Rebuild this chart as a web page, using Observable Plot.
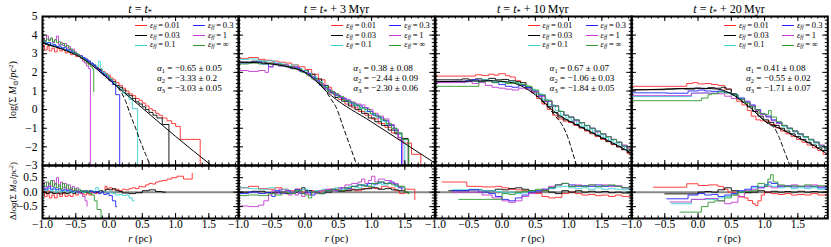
<!DOCTYPE html>
<html><head><meta charset="utf-8">
<script src="https://cdn.jsdelivr.net/npm/d3@7"></script>
<script src="https://cdn.jsdelivr.net/npm/@observablehq/plot@0.6"></script>
<style>
body{margin:0;background:#fff;}
#chart{position:relative;width:831px;height:247px;overflow:hidden;font-family:"Liberation Serif","DejaVu Serif",serif;color:#000;}
.abs{position:absolute;white-space:nowrap;line-height:1;}
.abs sub{font-size:70%;vertical-align:-0.25em;line-height:0;}
.abs sup{font-size:70%;vertical-align:0.45em;line-height:0;}
.plot{position:absolute;}
</style></head><body><div id="chart"></div><script>
// ---------------- categories / labels ----------------
const titles = ["", " + 3\u2009Myr", " + 10\u2009Myr", " + 20\u2009Myr"];
const epsLabels = ["0.01", "0.03", "0.1", "0.3", "1", "\u221e"];
const seriesKeys = ["red", "black", "cyan", "blue", "magenta", "green"];
const seriesColors = ["#ff2a2a", "#000000", "#38d4d4", "#2323ff", "#c23ad0", "#2e9a2e"];
const alphaText = [
  ["\u22120.65 \u00b1 0.05", "\u22123.33 \u00b1 0.2", "\u22123.03 \u00b1 0.05"],
  ["0.38 \u00b1 0.08", "\u22122.44 \u00b1 0.09", "\u22122.30 \u00b1 0.06"],
  ["0.67 \u00b1 0.07", "\u22121.06 \u00b1 0.03", "\u22121.84 \u00b1 0.05"],
  ["0.41 \u00b1 0.08", "\u22120.55 \u00b1 0.02", "\u22121.71 \u00b1 0.07"]
];
const xTickLabels = [-1, -0.5, 0, 0.5, 1, 1.5];
const mainYTickLabels = [-3, -2, -1, 0, 1, 2, 3, 4, 5];
const resYTickLabels = [-0.5, 0, 0.5];

// ---------------- panel 1: t = t* ----------------
const p1_fit = [[-1,3.6],[-0.8,3.37],[-0.6,3.1],[-0.45,2.85],[-0.3,2.5],[-0.1,1.92],[0.2,1.0],[0.6,-0.22],[1.0,-1.44],[1.54,-3.0]];
const p1_dash = [[-0.1,1.92],[0.05,1.46],[0.15,1.1],[0.25,0.45],[0.32,-0.27],[0.4,-1.0],[0.47,-1.7],[0.55,-2.4],[0.62,-3.0]];
const p1_red = [[-1,3.45],[-0.97,3.2],[-0.93,3.4],[-0.9,3.15],[-0.86,3.3],[-0.82,3.1],[-0.78,3.3],[-0.74,3.15],[-0.7,3.25],[-0.66,3.05],[-0.62,3.1],[-0.58,2.95],[-0.54,3.0],[-0.5,2.85],[-0.46,2.9],[-0.42,2.75],[-0.38,2.7],[-0.34,2.6],[-0.3,2.45],[-0.26,2.4],[-0.22,2.3],[-0.18,2.2],[-0.14,2.15],[-0.1,2.05],[-0.06,1.95],[-0.02,1.85],[0.02,1.7],[0.06,1.6],[0.1,1.45],[0.15,1.3],[0.2,1.15],[0.25,1.0],[0.3,0.85],[0.35,0.75],[0.4,0.6],[0.45,0.5],[0.5,0.35],[0.55,0.2],[0.6,0.05],[0.65,-0.05],[0.7,-0.2],[0.75,-0.3],[0.8,-0.45],[0.87,-0.6],[0.94,-0.75],[1.0,-0.9],[1.07,-1.6],[1.37,-3.0]];
const p1_black = [[-1,3.55],[-0.96,3.5],[-0.92,3.45],[-0.88,3.42],[-0.84,3.38],[-0.8,3.35],[-0.76,3.3],[-0.72,3.27],[-0.68,3.2],[-0.64,3.18],[-0.6,3.1],[-0.56,3.05],[-0.52,2.98],[-0.48,2.92],[-0.44,2.85],[-0.4,2.78],[-0.36,2.68],[-0.32,2.6],[-0.28,2.48],[-0.24,2.4],[-0.2,2.25],[-0.16,2.15],[-0.12,2.0],[-0.08,1.9],[-0.04,1.8],[0,1.62],[0.05,1.5],[0.1,1.3],[0.15,1.2],[0.2,1.05],[0.25,0.85],[0.3,0.75],[0.35,0.6],[0.4,0.42],[0.45,0.3],[0.5,0.15],[0.55,0.0],[0.6,-0.15],[0.66,-0.3],[0.72,-0.45],[0.8,-0.8],[0.9,-3.0]];
const p1_cyan = [[-1,3.65],[-0.96,3.6],[-0.92,3.5],[-0.88,3.55],[-0.84,3.45],[-0.8,3.4],[-0.76,3.35],[-0.72,3.32],[-0.68,3.25],[-0.64,3.2],[-0.6,3.15],[-0.56,3.05],[-0.52,3.0],[-0.48,2.9],[-0.44,2.85],[-0.4,2.75],[-0.36,2.65],[-0.32,2.6],[-0.28,2.45],[-0.24,2.4],[-0.2,2.3],[-0.16,2.6],[-0.13,2.2],[-0.1,2.0],[-0.05,1.85],[0,1.65],[0.05,1.45],[0.1,1.25],[0.15,1.1],[0.2,0.9],[0.25,0.75],[0.3,0.55],[0.35,0.05],[0.43,-3.0]];
const p1_blue = [[-1,3.7],[-0.96,3.55],[-0.92,3.6],[-0.88,3.45],[-0.84,3.5],[-0.8,3.4],[-0.76,3.42],[-0.72,3.3],[-0.68,3.35],[-0.64,3.2],[-0.6,3.22],[-0.56,3.1],[-0.52,3.05],[-0.48,2.95],[-0.44,2.9],[-0.4,2.8],[-0.36,2.72],[-0.32,2.6],[-0.28,2.5],[-0.24,2.38],[-0.2,2.2],[-0.16,2.1],[-0.12,1.95],[-0.08,1.85],[-0.04,1.7],[0,1.55],[0.05,1.35],[0.1,0.8],[0.16,-3.0]];
const p1_magenta = [[-1,3.85],[-0.97,3.7],[-0.94,3.95],[-0.91,3.75],[-0.88,3.8],[-0.85,3.6],[-0.82,3.75],[-0.79,3.95],[-0.76,3.5],[-0.73,3.6],[-0.7,3.45],[-0.67,3.55],[-0.64,3.3],[-0.61,3.4],[-0.58,3.2],[-0.55,3.25],[-0.52,3.1],[-0.49,2.95],[-0.46,2.9],[-0.43,2.75],[-0.4,2.6],[-0.37,2.5],[-0.34,2.35],[-0.31,2.2],[-0.28,-3.0]];
const p1_green = [[-1,3.75],[-0.97,3.65],[-0.94,3.8],[-0.91,3.7],[-0.88,3.85],[-0.85,3.65],[-0.82,3.75],[-0.79,3.6],[-0.76,3.65],[-0.73,3.5],[-0.7,3.55],[-0.67,3.4],[-0.64,3.45],[-0.61,3.3],[-0.58,3.25],[-0.55,3.15],[-0.52,3.05],[-0.49,3.0],[-0.46,2.9],[-0.43,2.8],[-0.4,2.72],[-0.37,2.62],[-0.34,2.5],[-0.31,2.4],[-0.28,2.3],[-0.25,2.2],[-0.23,0.97]];
const p1r_red = [[-1,0.1],[-0.97,-0.15],[-0.93,0.05],[-0.9,-0.2],[-0.86,-0.1],[-0.82,-0.2],[-0.78,-0.05],[-0.74,-0.15],[-0.7,-0.05],[-0.66,-0.15],[-0.62,-0.1],[-0.58,-0.15],[-0.54,-0.05],[-0.5,-0.1],[-0.46,0.0],[-0.42,-0.05],[-0.38,-0.1],[-0.34,-0.05],[-0.3,-0.1],[-0.26,0.0],[-0.22,-0.05],[-0.18,0.0],[-0.14,0.05],[-0.1,0.0],[-0.06,0.2],[-0.03,0.1],[0.0,0.15],[0.05,0.08],[0.1,0.1],[0.15,0.05],[0.2,0.1],[0.25,0.08],[0.3,0.12],[0.35,0.15],[0.4,0.12],[0.45,0.2],[0.5,0.18],[0.55,0.25],[0.6,0.3],[0.65,0.28],[0.7,0.35],[0.75,0.38],[0.8,0.4],[0.87,0.45],[0.94,0.5],[1.02,0.55],[1.12,0.45],[1.25,0.65]];
const p1r_black = [[-1,0.0],[-0.95,-0.05],[-0.9,0.0],[-0.85,-0.05],[-0.8,-0.03],[-0.75,-0.06],[-0.7,-0.02],[-0.65,-0.05],[-0.6,0.0],[-0.55,-0.04],[-0.5,0.02],[-0.45,-0.02],[-0.4,0.03],[-0.35,0.0],[-0.3,0.05],[-0.25,0.02],[-0.2,0.0],[-0.15,0.05],[-0.1,0.03],[-0.05,0.1],[0.0,0.08],[0.05,0.12],[0.1,0.05],[0.15,0.02],[0.2,-0.03],[0.3,-0.05],[0.4,-0.02],[0.5,0.05],[0.6,0.08],[0.7,0.02],[0.8,0.0],[0.85,0.0]];
const p1r_cyan = [[-1,0.1],[-0.96,0.05],[-0.92,0.12],[-0.88,0.05],[-0.84,0.1],[-0.8,0.0],[-0.76,0.08],[-0.72,0.02],[-0.68,0.06],[-0.64,0.0],[-0.6,0.05],[-0.56,-0.02],[-0.52,0.03],[-0.48,-0.03],[-0.44,0.02],[-0.4,-0.02],[-0.36,0.03],[-0.32,0.0],[-0.28,0.05],[-0.24,0.0],[-0.2,0.15],[-0.16,0.05],[-0.12,-0.02],[-0.08,0.02],[-0.04,-0.05],[0,0.0],[0.05,-0.05],[0.1,-0.1],[0.15,-0.08],[0.2,-0.12],[0.25,-0.1],[0.3,-0.2],[0.35,-0.3],[0.38,-0.3]];
const p1r_blue = [[-1,0.15],[-0.96,0.1],[-0.92,0.2],[-0.88,0.1],[-0.84,0.15],[-0.8,0.08],[-0.76,0.12],[-0.72,0.05],[-0.68,0.1],[-0.64,0.05],[-0.6,0.08],[-0.56,0.03],[-0.52,0.06],[-0.48,0.0],[-0.44,0.05],[-0.4,0.02],[-0.36,0.05],[-0.32,0.0],[-0.28,0.03],[-0.24,-0.02],[-0.2,0.02],[-0.16,-0.05],[-0.12,0.0],[-0.08,-0.08],[-0.04,-0.05],[0.0,-0.12],[0.05,-0.3],[0.1,-0.5],[0.12,-0.5]];
const p1r_magenta = [[-1,0.25],[-0.97,0.35],[-0.94,0.15],[-0.91,0.3],[-0.88,0.2],[-0.85,0.4],[-0.82,0.25],[-0.79,0.5],[-0.76,0.2],[-0.73,0.35],[-0.7,0.15],[-0.67,0.3],[-0.64,0.1],[-0.61,0.25],[-0.58,0.1],[-0.55,0.2],[-0.52,0.05],[-0.49,0.15],[-0.46,0.0],[-0.43,-0.05],[-0.4,-0.15],[-0.36,-0.3],[-0.33,-0.48]];
const p1r_green = [[-1,0.3],[-0.97,0.2],[-0.94,0.35],[-0.91,0.25],[-0.88,0.4],[-0.85,0.2],[-0.82,0.3],[-0.79,0.15],[-0.76,0.25],[-0.73,0.1],[-0.7,0.3],[-0.67,0.15],[-0.64,0.25],[-0.61,0.1],[-0.58,0.15],[-0.55,0.05],[-0.52,0.12],[-0.49,0.05],[-0.46,0.1],[-0.43,0.02],[-0.4,0.05],[-0.37,0.0],[-0.34,0.03],[-0.3,-0.05],[-0.26,-0.1],[-0.22,-0.3],[-0.18,-0.6],[-0.12,-0.95]];

// ---------------- panel 2: t = t* + 3 Myr ----------------
const p2_fit = [[-1,2.55],[-0.7,2.52],[-0.4,2.4],[-0.2,2.25],[0,2.0],[0.15,1.6],[0.3,1.05],[0.4,0.74],[1.0,-0.66],[1.5,-1.82],[1.95,-2.87]];
const p2_dash = [[0.2,1.45],[0.3,1.05],[0.38,0.62],[0.47,0.1],[0.58,-1.0],[0.68,-2.0],[0.78,-3.0]];
const p2_red = [[-1,2.75],[-0.85,2.8],[-0.7,2.7],[-0.6,2.65],[-0.5,2.6],[-0.4,2.55],[-0.3,2.5],[-0.2,2.4],[-0.1,2.3],[0,2.15],[0.1,1.9],[0.2,1.6],[0.3,1.2],[0.4,0.85],[0.5,0.55],[0.6,0.3],[0.7,0.1],[0.8,-0.1],[0.9,-0.3],[1.0,-0.5],[1.1,-0.75],[1.2,-0.95],[1.3,-1.25],[1.4,-1.6],[1.47,-1.8],[1.6,-2.4],[1.74,-3.0]];
const p2_black = [[-1,2.55],[-0.8,2.6],[-0.6,2.5],[-0.45,2.45],[-0.35,2.4],[-0.25,2.3],[-0.15,2.2],[-0.05,2.1],[0.05,1.9],[0.15,1.65],[0.25,1.3],[0.35,0.95],[0.45,0.65],[0.55,0.45],[0.65,0.2],[0.75,0.0],[0.85,-0.2],[0.95,-0.45],[1.05,-0.65],[1.15,-0.85],[1.25,-1.1],[1.35,-1.3],[1.45,-1.55],[1.55,-3.0]];
const p2_cyan = [[-1,2.7],[-0.85,2.72],[-0.7,2.6],[-0.55,2.62],[-0.45,2.5],[-0.35,2.45],[-0.27,2.35],[-0.2,2.4],[-0.12,2.2],[-0.05,2.1],[0.03,1.95],[0.1,1.75],[0.18,1.5],[0.26,1.25],[0.34,1.0],[0.42,0.85],[0.5,0.65],[0.58,0.5],[0.66,0.35],[0.74,0.2],[0.82,0.05],[0.9,-0.1],[0.98,-0.25],[1.06,-0.4],[1.14,-0.6],[1.22,-0.8],[1.3,-1.0],[1.38,-1.25],[1.45,-1.6],[1.5,-3.0]];
const p2_blue = [[-1,2.5],[-0.8,2.55],[-0.65,2.45],[-0.55,2.3],[-0.48,2.45],[-0.4,2.35],[-0.3,2.3],[-0.22,2.2],[-0.15,2.25],[-0.08,2.05],[0,1.95],[0.08,1.75],[0.15,1.55],[0.22,1.3],[0.3,1.1],[0.38,0.9],[0.46,0.75],[0.54,0.6],[0.62,0.45],[0.7,0.3],[0.78,0.2],[0.86,0.1],[0.94,-0.1],[1.02,-0.3],[1.1,-0.45],[1.18,-0.6],[1.26,-0.85],[1.34,-1.1],[1.4,-1.5],[1.45,-3.0]];
const p2_magenta = [[-1,2.1],[-0.85,2.05],[-0.7,2.1],[-0.6,2.0],[-0.55,2.3],[-0.48,2.45],[-0.4,2.35],[-0.32,2.4],[-0.25,2.25],[-0.18,2.3],[-0.1,2.1],[-0.03,2.0],[0.05,1.8],[0.12,1.6],[0.2,1.4],[0.28,1.15],[0.36,0.95],[0.44,0.8],[0.52,0.65],[0.6,0.55],[0.68,0.4],[0.76,0.3],[0.84,0.25],[0.9,0.1],[0.96,0.0],[1.02,-0.2],[1.1,-0.35],[1.18,-0.5],[1.26,-0.8],[1.34,-1.05],[1.4,-1.5],[1.47,-3.0]];
const p2_green = [[-1,2.45],[-0.85,2.5],[-0.7,2.45],[-0.55,2.45],[-0.45,2.4],[-0.35,2.35],[-0.28,2.3],[-0.2,2.2],[-0.12,2.15],[-0.05,2.0],[0.02,1.85],[0.1,1.65],[0.18,1.45],[0.26,1.2],[0.34,1.0],[0.42,0.85],[0.5,0.7],[0.58,0.5],[0.66,0.4],[0.74,0.25],[0.82,0.1],[0.9,0.0],[0.98,-0.2],[1.06,-0.35],[1.14,-0.55],[1.22,-0.75],[1.3,-1.0],[1.38,-1.25],[1.46,-1.6],[1.56,-3.0]];
const p2r_red = [[-1,0.15],[-0.85,0.2],[-0.7,0.12],[-0.55,0.1],[-0.45,0.15],[-0.35,0.1],[-0.25,0.05],[-0.15,0.1],[-0.05,0.0],[0.05,0.05],[0.15,0.0],[0.25,0.05],[0.35,0.1],[0.45,0.08],[0.55,0.05],[0.65,0.1],[0.75,0.05],[0.85,0.12],[0.95,0.15],[1.05,0.12],[1.15,0.2],[1.25,0.15],[1.35,0.05],[1.42,-0.05],[1.5,0.1],[1.65,-0.26]];
const p2r_black = [[-1,0.0],[-0.8,0.03],[-0.6,-0.02],[-0.45,0.0],[-0.3,-0.05],[-0.2,0.0],[-0.1,0.05],[-0.05,0.15],[0.0,0.05],[0.1,0.0],[0.2,-0.05],[0.3,0.0],[0.4,0.05],[0.5,0.03],[0.6,0.05],[0.7,0.08],[0.8,0.1],[0.9,0.12],[1.0,0.15],[1.1,0.1],[1.2,0.12],[1.3,0.08],[1.4,0.05],[1.5,0.0],[1.55,-0.05]];
const p2r_cyan = [[-1,0.15],[-0.85,0.12],[-0.7,0.1],[-0.55,0.15],[-0.45,0.05],[-0.35,0.1],[-0.25,0.0],[-0.15,0.05],[-0.05,0.1],[0.05,0.0],[0.15,0.05],[0.25,0.1],[0.35,0.05],[0.45,0.15],[0.55,0.1],[0.65,0.2],[0.75,0.15],[0.85,0.25],[0.95,0.2],[1.05,0.3],[1.15,0.25],[1.25,0.3],[1.35,0.2],[1.45,0.15],[1.5,0.1]];
const p2r_blue = [[-1,-0.05],[-0.85,0.0],[-0.7,-0.05],[-0.6,-0.02],[-0.5,-0.15],[-0.45,0.05],[-0.38,-0.05],[-0.3,0.05],[-0.22,-0.05],[-0.15,0.1],[-0.08,-0.05],[0,0.0],[0.08,-0.1],[0.15,0.0],[0.22,-0.05],[0.3,0.05],[0.38,0.1],[0.46,0.05],[0.54,0.15],[0.62,0.12],[0.7,0.2],[0.78,0.25],[0.86,0.22],[0.94,0.3],[1.02,0.28],[1.1,0.35],[1.18,0.3],[1.26,0.35],[1.34,0.25],[1.4,0.15],[1.45,0.1]];
const p2r_magenta = [[-1,-0.48],[-0.85,-0.5],[-0.7,-0.45],[-0.62,-0.3],[-0.55,-0.1],[-0.5,0.05],[-0.45,-0.05],[-0.4,0.1],[-0.35,-0.05],[-0.3,0.05],[-0.25,-0.1],[-0.2,0.0],[-0.15,-0.1],[-0.1,0.0],[-0.05,-0.15],[0,-0.05],[0.05,-0.1],[0.1,0.0],[0.15,-0.05],[0.2,0.05],[0.3,0.1],[0.4,0.05],[0.5,0.15],[0.6,0.25],[0.7,0.3],[0.8,0.35],[0.85,0.45],[0.9,0.3],[0.95,0.4],[1.0,0.55],[1.05,0.35],[1.1,0.45],[1.2,0.4],[1.3,0.3],[1.4,0.2],[1.47,0.1]];
const p2r_green = [[-1,-0.12],[-0.85,-0.1],[-0.7,-0.12],[-0.55,-0.05],[-0.45,-0.1],[-0.35,0.0],[-0.25,-0.05],[-0.15,0.05],[-0.05,-0.05],[0.0,-0.1],[0.05,-0.2],[0.1,0.0],[0.2,-0.05],[0.3,0.05],[0.4,0.1],[0.5,0.05],[0.6,0.15],[0.7,0.2],[0.8,0.25],[0.9,0.2],[1.0,0.3],[1.1,0.35],[1.2,0.3],[1.3,0.25],[1.4,0.2],[1.5,0.0],[1.56,-0.05]];

// ---------------- panel 3: t = t* + 10 Myr ----------------
const p3_fit = [[-1,1.5],[-0.5,1.53],[-0.2,1.55],[0,1.52],[0.2,1.4],[0.4,1.05],[0.6,0.5],[0.8,-0.15],[1.0,-0.6],[1.25,-1.05],[1.5,-1.5],[1.75,-1.95],[1.95,-2.35]];
const p3_dash = [[0.6,0.45],[0.7,0.1],[0.8,-0.35],[0.9,-0.8],[1.0,-1.6],[1.06,-2.3],[1.12,-3.0]];
const p3_red = [[-1,1.8],[-0.4,1.87],[-0.3,1.83],[-0.2,1.9],[-0.12,1.85],[-0.05,1.93],[0.05,1.82],[0.12,1.75],[0.2,1.55],[0.28,1.35],[0.36,1.15],[0.44,0.9],[0.52,0.6],[0.6,0.3],[0.68,0.0],[0.76,-0.3],[0.84,-0.5],[0.92,-0.62],[1.0,-0.7],[1.08,-0.85],[1.16,-1.0],[1.24,-1.15],[1.32,-1.3],[1.4,-1.45],[1.48,-1.6],[1.56,-1.72],[1.64,-1.88],[1.72,-2.0],[1.8,-2.15],[1.88,-2.35],[1.95,-2.45]];
const p3_black = [[-1,1.6],[-0.6,1.65],[-0.5,1.6],[-0.4,1.65],[-0.3,1.6],[-0.2,1.68],[-0.1,1.6],[0,1.62],[0.1,1.55],[0.2,1.5],[0.28,1.45],[0.36,1.2],[0.44,0.95],[0.52,0.7],[0.6,0.45],[0.68,0.15],[0.76,-0.15],[0.84,-0.4],[0.92,-0.55],[1.0,-0.65],[1.08,-0.8],[1.16,-0.95],[1.24,-1.1],[1.32,-1.25],[1.4,-1.4],[1.48,-1.55],[1.56,-1.7],[1.64,-1.85],[1.72,-2.0],[1.8,-2.15],[1.88,-2.3],[1.95,-2.4]];
const p3_cyan = [[-1,1.48],[-0.5,1.55],[-0.4,1.5],[-0.3,1.6],[-0.2,1.55],[-0.1,1.5],[0,1.45],[0.1,1.5],[0.2,1.4],[0.3,1.3],[0.4,1.1],[0.5,0.85],[0.6,0.55],[0.7,0.25],[0.8,-0.05],[0.88,-0.3],[0.96,-0.45],[1.04,-0.6],[1.12,-0.75],[1.2,-0.9],[1.28,-1.05],[1.36,-1.2],[1.44,-1.35],[1.52,-1.5],[1.6,-1.65],[1.68,-1.8],[1.76,-1.95],[1.84,-2.15],[1.95,-2.35]];
const p3_blue = [[-1,1.5],[-0.55,1.55],[-0.45,1.6],[-0.35,1.5],[-0.25,1.55],[-0.15,1.45],[-0.05,1.35],[0.05,1.25],[0.15,1.2],[0.25,1.3],[0.35,1.2],[0.45,1.0],[0.55,0.75],[0.65,0.45],[0.75,0.2],[0.85,-0.1],[0.93,-0.3],[1.0,-0.4],[1.08,-0.55],[1.16,-0.7],[1.24,-0.85],[1.32,-1.0],[1.4,-1.15],[1.48,-1.3],[1.56,-1.45],[1.64,-1.6],[1.72,-1.75],[1.8,-1.95],[1.88,-2.15],[1.95,-2.3]];
const p3_magenta = [[-1,1.45],[-0.55,1.5],[-0.45,1.4],[-0.35,1.45],[-0.25,1.3],[-0.15,1.2],[-0.05,1.15],[0.05,1.1],[0.15,1.05],[0.25,1.15],[0.35,1.1],[0.45,0.95],[0.55,0.7],[0.65,0.45],[0.75,0.2],[0.85,-0.1],[0.93,-0.3],[1.0,-0.4],[1.08,-0.6],[1.16,-0.7],[1.24,-0.85],[1.32,-1.0],[1.4,-1.2],[1.48,-1.3],[1.56,-1.45],[1.64,-1.6],[1.72,-1.75],[1.8,-1.9],[1.88,-2.1],[1.95,-2.25]];
const p3_green = [[-1,1.25],[-0.35,1.5],[-0.25,1.55],[-0.15,1.45],[-0.05,1.5],[0.05,1.4],[0.15,1.45],[0.25,1.35],[0.35,1.25],[0.45,1.05],[0.55,0.8],[0.65,0.5],[0.75,0.2],[0.85,-0.1],[0.93,-0.3],[1.0,-0.4],[1.08,-0.55],[1.16,-0.7],[1.24,-0.85],[1.32,-1.0],[1.4,-1.15],[1.48,-1.3],[1.56,-1.45],[1.64,-1.6],[1.72,-1.75],[1.8,-1.95],[1.88,-2.15],[1.95,-2.3]];
const p3r_red = [[-0.9,0.35],[-0.53,0.2],[-0.3,0.18],[-0.1,0.2],[0.0,0.15],[0.1,0.1],[0.2,0.08],[0.3,0.05],[0.4,0.0],[0.5,-0.05],[0.6,-0.15],[0.7,-0.2],[0.8,-0.18],[0.9,-0.05],[1.0,0.0],[1.1,-0.05],[1.2,-0.1],[1.3,-0.08],[1.4,-0.12],[1.5,-0.1],[1.6,-0.15],[1.7,-0.1],[1.8,-0.15],[1.95,-0.15]];
const p3r_black = [[-0.8,0.05],[-0.5,0.08],[-0.3,0.05],[-0.1,0.1],[0.0,0.08],[0.1,0.12],[0.2,0.15],[0.3,0.1],[0.4,0.05],[0.5,0.0],[0.6,0.05],[0.7,0.0],[0.8,-0.05],[0.9,0.05],[1.0,0.0],[1.1,0.05],[1.2,0.0],[1.3,0.03],[1.4,0.0],[1.5,0.02],[1.6,-0.02],[1.7,0.0],[1.8,-0.03],[1.95,-0.05]];
const p3r_cyan = [[-0.75,0.08],[-0.5,0.1],[-0.3,0.05],[-0.1,0.02],[0.0,-0.02],[0.1,0.0],[0.2,-0.05],[0.3,0.0],[0.4,0.02],[0.5,0.05],[0.6,0.1],[0.7,0.12],[0.8,0.18],[0.9,0.2],[1.0,0.15],[1.1,0.12],[1.2,0.15],[1.3,0.1],[1.4,0.15],[1.5,0.1],[1.6,0.12],[1.7,0.1],[1.8,0.08],[1.95,0.0]];
const p3r_blue = [[-0.75,0.05],[-0.5,0.08],[-0.35,0.0],[-0.2,-0.05],[-0.1,-0.15],[0.0,-0.25],[0.1,-0.3],[0.2,-0.2],[0.3,-0.1],[0.4,0.0],[0.5,0.05],[0.6,0.1],[0.7,0.15],[0.8,0.25],[0.9,0.3],[1.0,0.25],[1.1,0.2],[1.2,0.22],[1.3,0.2],[1.4,0.25],[1.5,0.2],[1.6,0.22],[1.7,0.2],[1.8,0.15],[1.95,0.05]];
const p3r_magenta = [[-0.75,0.0],[-0.5,0.0],[-0.3,-0.1],[-0.15,-0.2],[0.0,-0.3],[0.1,-0.35],[0.2,-0.3],[0.3,-0.15],[0.4,-0.05],[0.5,0.0],[0.6,0.1],[0.7,0.2],[0.8,0.25],[0.9,0.3],[1.0,0.2],[1.1,0.25],[1.2,0.2],[1.3,0.25],[1.4,0.2],[1.5,0.25],[1.6,0.2],[1.7,0.22],[1.8,0.15],[1.95,0.1]];
const p3r_green = [[-0.65,-0.25],[0.0,-0.05],[0.1,-0.08],[0.2,0.0],[0.3,0.03],[0.4,0.05],[0.5,0.1],[0.6,0.05],[0.7,0.15],[0.8,0.25],[0.9,0.3],[1.0,0.2],[1.1,0.22],[1.2,0.2],[1.3,0.25],[1.4,0.2],[1.5,0.22],[1.6,0.25],[1.7,0.2],[1.8,0.15],[1.95,0.05]];

// ---------------- panel 4: t = t* + 20 Myr ----------------
const p4_fit = [[-1,1.05],[-0.5,1.1],[0,1.15],[0.3,1.1],[0.5,0.85],[0.7,0.35],[0.85,-0.1],[1.0,-0.6],[1.25,-1.05],[1.5,-1.5],[1.75,-1.95],[1.95,-2.4]];
const p4_dash = [[0.85,-0.1],[0.95,-0.45],[1.05,-0.75],[1.15,-1.0],[1.22,-1.5],[1.3,-2.25],[1.38,-3.0]];
const p4_red = [[-1,1.25],[-0.17,1.4],[-0.08,1.45],[0.0,1.38],[0.1,1.4],[0.2,1.35],[0.3,1.3],[0.4,1.1],[0.5,0.8],[0.58,0.45],[0.66,0.25],[0.74,-0.05],[0.8,-0.35],[0.87,-0.55],[0.94,-0.6],[1.0,-0.62],[1.08,-0.8],[1.16,-0.98],[1.24,-1.15],[1.32,-1.3],[1.4,-1.45],[1.48,-1.6],[1.56,-1.75],[1.64,-1.9],[1.72,-2.05],[1.8,-2.2],[1.88,-2.4],[1.95,-2.5]];
const p4_black = [[-1,1.07],[-0.5,1.1],[-0.35,1.12],[-0.2,1.1],[-0.05,1.15],[0.05,1.12],[0.15,1.18],[0.25,1.15],[0.35,1.2],[0.42,1.1],[0.5,0.85],[0.58,0.6],[0.66,0.4],[0.74,0.15],[0.82,-0.1],[0.9,-0.35],[0.98,-0.55],[1.06,-0.7],[1.14,-0.85],[1.22,-1.0],[1.3,-1.15],[1.38,-1.3],[1.46,-1.45],[1.54,-1.6],[1.62,-1.75],[1.7,-1.9],[1.78,-2.05],[1.86,-2.2],[1.95,-2.4]];
const p4_cyan = [[-1,0.7],[-0.1,0.88],[0.3,0.95],[0.4,0.92],[0.5,0.78],[0.6,0.6],[0.7,0.4],[0.78,0.22],[0.86,0.0],[0.94,-0.25],[1.02,-0.4],[1.1,-0.6],[1.18,-0.75],[1.26,-0.9],[1.34,-1.05],[1.42,-1.2],[1.5,-1.35],[1.58,-1.5],[1.66,-1.65],[1.74,-1.8],[1.82,-1.95],[1.9,-2.15],[1.95,-2.25]];
const p4_blue = [[-1,0.9],[-0.47,0.88],[-0.15,1.0],[0.0,1.05],[0.1,1.0],[0.2,0.98],[0.3,1.0],[0.4,0.9],[0.5,0.8],[0.6,0.62],[0.7,0.45],[0.78,0.25],[0.86,0.0],[0.94,-0.25],[1.02,-0.35],[1.1,-0.55],[1.18,-0.7],[1.26,-0.85],[1.34,-1.0],[1.42,-1.15],[1.5,-1.3],[1.58,-1.45],[1.66,-1.6],[1.74,-1.75],[1.82,-1.95],[1.9,-2.1],[1.95,-2.2]];
const p4_magenta = [[-1,0.75],[-0.1,0.88],[0.0,0.9],[0.15,0.88],[0.3,0.85],[0.4,0.72],[0.5,0.6],[0.6,0.55],[0.7,0.42],[0.78,0.2],[0.86,-0.05],[0.94,-0.25],[1.02,-0.4],[1.1,-0.6],[1.18,-0.75],[1.26,-0.85],[1.34,-1.0],[1.42,-1.15],[1.5,-1.3],[1.58,-1.45],[1.66,-1.6],[1.74,-1.75],[1.82,-1.9],[1.9,-2.1],[1.95,-2.2]];
const p4_green = [[-1,0.48],[0.05,0.62],[0.15,0.8],[0.2,0.85],[0.3,0.95],[0.4,0.9],[0.5,0.8],[0.6,0.55],[0.7,0.35],[0.78,0.15],[0.86,0.0],[0.92,-0.2],[1.0,-0.25],[1.06,-0.05],[1.1,-0.4],[1.18,-0.65],[1.26,-0.85],[1.34,-1.0],[1.42,-1.15],[1.5,-1.3],[1.58,-1.45],[1.66,-1.6],[1.74,-1.75],[1.82,-1.95],[1.9,-2.1],[1.95,-2.2]];
const p4r_red = [[-0.67,0.17],[-0.17,0.29],[0.0,0.23],[0.15,0.25],[0.3,0.2],[0.38,0.1],[0.45,0.0],[0.55,-0.1],[0.62,-0.17],[0.7,-0.2],[0.75,-0.29],[0.82,-0.4],[0.86,-0.46],[0.9,-0.3],[0.95,-0.1],[1.0,0.0],[1.1,-0.05],[1.2,-0.08],[1.3,-0.05],[1.4,-0.1],[1.5,-0.08],[1.6,-0.1],[1.7,-0.05],[1.8,-0.1],[1.95,-0.08]];
const p4r_black = [[-0.5,-0.06],[0.0,0.0],[0.1,0.02],[0.2,0.0],[0.3,0.08],[0.4,0.15],[0.5,0.05],[0.6,0.0],[0.7,-0.02],[0.8,0.0],[0.9,0.05],[1.0,0.0],[1.1,0.03],[1.2,0.0],[1.3,0.02],[1.4,0.0],[1.5,0.03],[1.6,0.0],[1.7,0.02],[1.8,0.0],[1.95,0.02]];
const p4r_cyan = [[-0.4,-0.4],[-0.1,-0.25],[0.3,-0.2],[0.4,-0.15],[0.5,-0.1],[0.6,0.0],[0.7,0.05],[0.8,0.15],[0.9,0.2],[1.0,0.25],[1.1,0.2],[1.2,0.15],[1.3,0.18],[1.4,0.12],[1.5,0.15],[1.6,0.12],[1.7,0.15],[1.8,0.1],[1.95,0.12]];
const p4r_blue = [[-0.47,-0.23],[-0.15,-0.1],[0.0,-0.05],[0.1,-0.1],[0.2,-0.08],[0.3,-0.15],[0.4,-0.1],[0.5,-0.05],[0.6,0.05],[0.7,0.1],[0.8,0.2],[0.9,0.15],[1.0,0.25],[1.05,0.35],[1.1,0.3],[1.2,0.2],[1.3,0.22],[1.4,0.18],[1.5,0.2],[1.6,0.18],[1.7,0.2],[1.8,0.15],[1.95,0.18]];
const p4r_magenta = [[-0.42,-0.34],[-0.1,-0.25],[0.1,-0.22],[0.3,-0.3],[0.4,-0.4],[0.5,-0.35],[0.6,-0.15],[0.7,0.05],[0.8,0.1],[0.9,0.15],[1.0,0.2],[1.1,0.15],[1.2,0.22],[1.3,0.2],[1.4,0.25],[1.5,0.2],[1.6,0.22],[1.7,0.25],[1.8,0.2],[1.95,0.22]];
const p4r_green = [[-0.27,-0.69],[0.05,-0.5],[0.15,-0.35],[0.25,-0.3],[0.4,-0.2],[0.5,-0.1],[0.6,0.0],[0.7,0.02],[0.8,0.05],[0.9,0.3],[1.0,0.2],[1.05,0.45],[1.09,0.6],[1.13,0.35],[1.2,0.25],[1.3,0.2],[1.4,0.22],[1.5,0.2],[1.6,0.25],[1.7,0.2],[1.8,0.22],[1.95,0.2]];

// ---------------- assemble ----------------
const panels = [
  {fit: p1_fit, dash: p1_dash, main: [p1_red, p1_black, p1_cyan, p1_blue, p1_magenta, p1_green], res: [p1r_red, p1r_black, p1r_cyan, p1r_blue, p1r_magenta, p1r_green]},
  {fit: p2_fit, dash: p2_dash, main: [p2_red, p2_black, p2_cyan, p2_blue, p2_magenta, p2_green], res: [p2r_red, p2r_black, p2r_cyan, p2r_blue, p2r_magenta, p2r_green]},
  {fit: p3_fit, dash: p3_dash, main: [p3_red, p3_black, p3_cyan, p3_blue, p3_magenta, p3_green], res: [p3r_red, p3r_black, p3r_cyan, p3r_blue, p3r_magenta, p3r_green]},
  {fit: p4_fit, dash: p4_dash, main: [p4_red, p4_black, p4_cyan, p4_blue, p4_magenta, p4_green], res: [p4r_red, p4r_black, p4r_cyan, p4r_blue, p4r_magenta, p4r_green]}
];

const X_DOMAIN = [-1, 1.95];
const MAIN_Y = [-3, 5];
const RES_Y = [-0.91, 0.92];
const W = 196.3, H1 = 149, H2 = 53;
const lefts = [42, 238.3, 434.6, 630.9];
const TOP1 = 16, TOP2 = 165;
const mL = 44, mR = 4, mT = 4, mB = 30;
const fmt1 = d => (d < 0 ? "\u2212" : "") + Math.abs(d).toFixed(1);
const fmt0 = d => (d < 0 ? "\u2212" : "") + Math.abs(d);
const X = d => d[0], Y = d => d[1];

const xMinor = d3.range(-1, 1.951, 0.1).map(v => Math.round(v * 10) / 10);
const mainYMinor = d3.range(-3, 5.001, 0.2).map(v => Math.round(v * 10) / 10);
const resYMinor = d3.range(-0.9, 0.901, 0.1).map(v => Math.round(v * 10) / 10);

function tickRules(yd, h, yMajor, yMinor) {
  const kx = (X_DOMAIN[1] - X_DOMAIN[0]) / W, ky = (yd[1] - yd[0]) / h;
  const M = 5, m = 2.5, s = {stroke: "black", strokeWidth: 1};
  const out = [];
  for (const [ticks, L] of [[xTickLabels, M], [xMinor, m]]) {
    out.push(Plot.ruleX(ticks, {x: d => d, y1: yd[0], y2: yd[0] + L * ky, ...s}));
    out.push(Plot.ruleX(ticks, {x: d => d, y1: yd[1], y2: yd[1] - L * ky, ...s}));
  }
  for (const [ticks, L] of [[yMajor, M], [yMinor, m]]) {
    out.push(Plot.ruleY(ticks, {y: d => d, x1: X_DOMAIN[0], x2: X_DOMAIN[0] + L * kx, ...s}));
    out.push(Plot.ruleY(ticks, {y: d => d, x1: X_DOMAIN[1], x2: X_DOMAIN[1] - L * kx, ...s}));
  }
  return out;
}

const chart = document.getElementById("chart");
const style = {background: "transparent", overflow: "visible", fontFamily: "Liberation Serif, DejaVu Serif, serif", fontSize: "11.5px", color: "black"};

panels.forEach((p, i) => {
  // main panel
  const mainMarks = [];
  p.main.forEach((s, k) => mainMarks.push(Plot.line(s, {x: X, y: Y, curve: "step-after", stroke: seriesColors[k], strokeWidth: 1, strokeOpacity: 0.9, clip: true})));
  mainMarks.push(Plot.line(p.fit, {x: X, y: Y, curve: "monotone-x", stroke: "black", strokeWidth: 1, clip: true}));
  mainMarks.push(Plot.line(p.dash, {x: X, y: Y, curve: "monotone-x", stroke: "black", strokeWidth: 1, strokeDasharray: "4,3", clip: true}));
  mainMarks.push(...tickRules(MAIN_Y, H1, mainYTickLabels, mainYMinor));
  mainMarks.push(Plot.frame({stroke: "black", strokeWidth: 2}));
  const mainSvg = Plot.plot({
    width: W + mL + mR, height: H1 + mT + mB,
    marginLeft: mL, marginRight: mR, marginTop: mT, marginBottom: mB,
    x: {domain: X_DOMAIN, axis: null},
    y: i === 0 ? {domain: MAIN_Y, ticks: mainYTickLabels, tickSize: 0, tickPadding: 5, tickFormat: fmt0, label: null} : {domain: MAIN_Y, axis: null},
    style, marks: mainMarks
  });
  mainSvg.classList.add("plot");
  mainSvg.style.left = (lefts[i] - mL) + "px";
  mainSvg.style.top = (TOP1 - mT) + "px";
  chart.appendChild(mainSvg);

  // residual panel
  const resMarks = [Plot.ruleY([0], {stroke: "#8a8a8a", strokeWidth: 2})];
  p.res.forEach((s, k) => resMarks.push(Plot.line(s, {x: X, y: Y, curve: "step-after", stroke: seriesColors[k], strokeWidth: 1, strokeOpacity: 0.9, clip: true})));
  resMarks.push(...tickRules(RES_Y, H2, resYTickLabels, resYMinor));
  resMarks.push(Plot.frame({stroke: "black", strokeWidth: 2}));
  const resSvg = Plot.plot({
    width: W + mL + mR, height: H2 + mT + mB,
    marginLeft: mL, marginRight: mR, marginTop: mT, marginBottom: mB,
    x: {domain: X_DOMAIN, ticks: xTickLabels, tickSize: 0, tickPadding: 1, tickFormat: fmt1, label: null},
    y: i === 0 ? {domain: RES_Y, ticks: resYTickLabels, tickSize: 0, tickPadding: 5, tickFormat: fmt1, label: null} : {domain: RES_Y, axis: null},
    style, marks: resMarks
  });
  resSvg.classList.add("plot");
  resSvg.style.left = (lefts[i] - mL) + "px";
  resSvg.style.top = (TOP2 - mT) + "px";
  chart.appendChild(resSvg);

  const L = lefts[i], cx = L + W / 2;
  // title
  const t = document.createElement("div");
  t.className = "abs";
  t.style.cssText = `left:${cx}px;top:3px;transform:translateX(-50%);font-size:12px;`;
  t.innerHTML = `<i>t</i> = <i>t</i><sub>*</sub>${titles[i]}`;
  chart.appendChild(t);
  // legend
  const legRows = [20.5, 30.5, 40];
  for (let k = 0; k < 6; k++) {
    const col = k < 3 ? 0 : 1, row = k % 3;
    const lx = L + (col === 0 ? 93 : 151);
    const ln = document.createElement("div");
    ln.className = "abs";
    ln.style.cssText = `left:${lx}px;top:${legRows[row] + 4.5}px;width:12px;height:0;border-top:1px solid ${seriesColors[k]};`;
    chart.appendChild(ln);
    const tx = document.createElement("div");
    tx.className = "abs";
    tx.style.cssText = `left:${lx + 15}px;top:${legRows[row]}px;font-size:8.5px;`;
    tx.innerHTML = `<i>\u03b5</i><sub><i>ff</i></sub>\u2009=\u2009${epsLabels[k]}`;
    chart.appendChild(tx);
  }
  // alpha annotations
  const aRows = [63.8, 74.1, 84.4];
  alphaText[i].forEach((txt, k) => {
    const a = document.createElement("div");
    a.className = "abs";
    a.style.cssText = `left:${L + 115}px;top:${aRows[k]}px;font-size:9.2px;`;
    a.innerHTML = `<i>\u03b1</i><sub>${k + 1}</sub> = ${txt}`;
    chart.appendChild(a);
  });
  // x label
  const xl = document.createElement("div");
  xl.className = "abs";
  xl.style.cssText = `left:${cx}px;top:234px;transform:translateX(-50%);font-size:10.5px;`;
  xl.innerHTML = `<i>r</i> (pc)`;
  chart.appendChild(xl);
});

// y labels
const yl1 = document.createElement("div");
yl1.className = "abs";
yl1.style.cssText = `left:13px;top:90px;transform:translate(-50%,-50%) rotate(-90deg);font-size:10px;`;
yl1.innerHTML = `log(\u03a3 <i>M</i><sub>\u2299</sub>/<i>pc</i><sup>2</sup>)`;
chart.appendChild(yl1);
const yl2 = document.createElement("div");
yl2.className = "abs";
yl2.style.cssText = `left:13px;top:191px;transform:translate(-50%,-50%) rotate(-90deg);font-size:9px;`;
yl2.innerHTML = `\u0394<i>log</i>(\u03a3 <i>M</i><sub>\u2299</sub>/<i>pc</i><sup>2</sup>)`;
chart.appendChild(yl2);
</script></body></html>
